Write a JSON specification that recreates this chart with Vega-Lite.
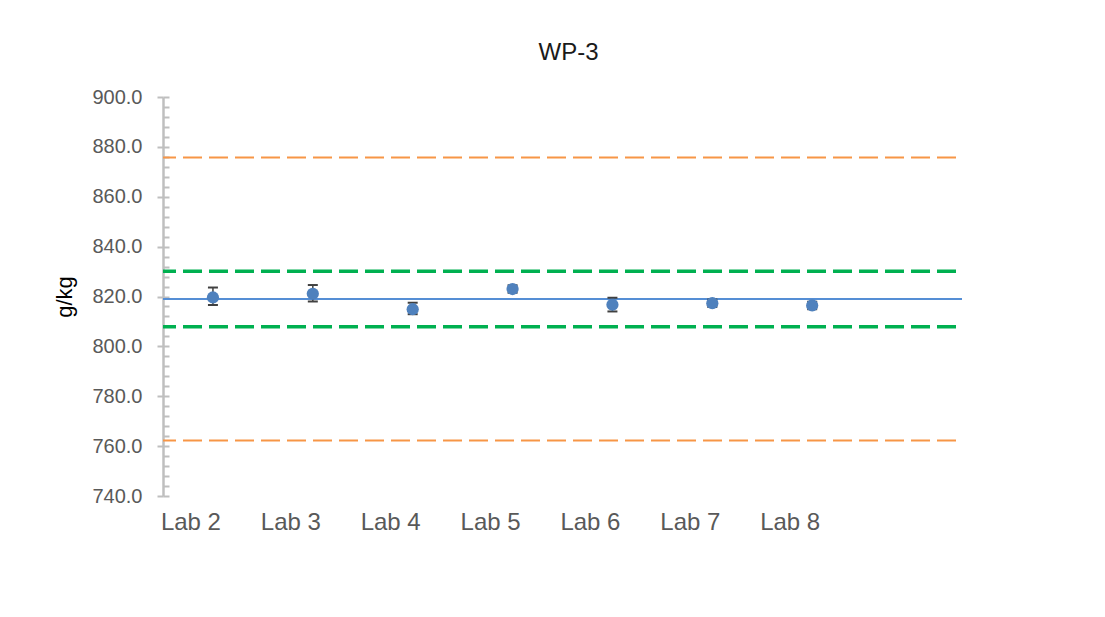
{
  "$schema": "https://vega.github.io/schema/vega-lite/v6.json",
  "width": 799,
  "height": 399,
  "autosize": "none",
  "padding": {"left": 163, "top": 97, "right": 143, "bottom": 121},
  "background": "#ffffff",
  "config": {
    "view": {"stroke": null},
    "font": "Liberation Sans",
    "axis": {"grid": false}
  },
  "title": {
    "text": "WP-3",
    "fontSize": 24,
    "fontWeight": "normal",
    "color": "#1A1A1A",
    "anchor": "middle",
    "dx": 6,
    "offset": 22
  },
  "datasets": {
    "results": [
      {"lab": "Lab 2", "mean": 819.6, "low": 816.6, "high": 823.6},
      {"lab": "Lab 3", "mean": 821.1, "low": 818.0, "high": 824.6},
      {"lab": "Lab 4", "mean": 814.9, "low": 812.9, "high": 817.5},
      {"lab": "Lab 5", "mean": 823.0, "low": 821.5, "high": 824.5},
      {"lab": "Lab 6", "mean": 816.7, "low": 814.0, "high": 819.5},
      {"lab": "Lab 7", "mean": 817.3, "low": 815.8, "high": 818.8},
      {"lab": "Lab 8", "mean": 816.4, "low": 814.9, "high": 817.9}
    ],
    "limits": [
      {"line": "assigned value", "value": 819.0},
      {"line": "inner limit", "value": 807.9},
      {"line": "inner limit", "value": 830.1},
      {"line": "outer limit", "value": 762.3},
      {"line": "outer limit", "value": 875.7}
    ]
  },
  "resolve": {"axis": {"y": "independent"}},
  "layer": [
    {
      "data": {"name": "limits"},
      "transform": [{"filter": "datum.line === 'outer limit'"}],
      "mark": {"type": "rule", "color": "#F79646", "strokeWidth": 2, "strokeDash": [19, 7], "strokeDashOffset": 20},
      "encoding": {
        "y": {
          "field": "value",
          "type": "quantitative",
          "scale": {"domain": [740, 900], "nice": false, "zero": false},
          "axis": {
            "orient": "left",
            "values": [740, 744, 748, 752, 756, 760, 764, 768, 772, 776, 780, 784, 788, 792, 796, 800, 804, 808, 812, 816, 820, 824, 828, 832, 836, 840, 844, 848, 852, 856, 860, 864, 868, 872, 876, 880, 884, 888, 892, 896, 900],
            "tickSize": -6,
            "tickColor": "#BFBFBF",
            "tickWidth": 2,
            "labels": false,
            "domain": false,
            "title": null
          }
        }
      }
    },
    {
      "data": {"name": "limits"},
      "transform": [{"filter": "datum.line === 'inner limit'"}],
      "mark": {"type": "rule", "color": "#00B050", "strokeWidth": 3.5, "strokeDash": [19, 7], "strokeDashOffset": 20},
      "encoding": {
        "y": {
          "field": "value",
          "type": "quantitative",
          "scale": {"domain": [740, 900], "nice": false, "zero": false},
          "axis": {
            "orient": "left",
            "title": "g/kg",
            "values": [740, 760, 780, 800, 820, 840, 860, 880, 900],
            "format": ".1f",
            "tickSize": 6,
            "tickColor": "#BFBFBF",
            "tickWidth": 2,
            "domainColor": "#BFBFBF",
            "domainWidth": 2.5,
            "labelFontSize": 20,
            "labelColor": "#595959",
            "labelPadding": 15,
            "titleFontSize": 22,
            "titleFontWeight": "normal",
            "titleColor": "#000000",
            "titlePadding": 15
          }
        }
      }
    },
    {
      "data": {"name": "limits"},
      "transform": [{"filter": "datum.line === 'assigned value'"}],
      "mark": {"type": "rule", "color": "#558ED5", "strokeWidth": 1.8},
      "encoding": {
        "y": {"field": "value", "type": "quantitative", "scale": {"domain": [740, 900], "nice": false, "zero": false}, "axis": null}
      }
    },
    {
      "data": {"name": "results"},
      "encoding": {
        "x": {
          "field": "lab",
          "type": "nominal",
          "sort": null,
          "scale": {"type": "band", "paddingInner": 0, "paddingOuter": 0.5, "align": 0},
          "axis": {
            "orient": "bottom",
            "title": null,
            "labelAngle": 0,
            "domain": false,
            "ticks": false,
            "tickSize": 0,
            "labelPadding": 14,
            "labelOffset": -22,
            "labelFontSize": 24,
            "labelColor": "#595959"
          }
        }
      },
      "layer": [
        {
          "mark": {"type": "rule", "color": "#404040", "strokeWidth": 1.5},
          "encoding": {
            "y": {"field": "low", "type": "quantitative", "scale": {"domain": [740, 900], "nice": false, "zero": false}, "axis": null},
            "y2": {"field": "high"}
          }
        },
        {
          "mark": {"type": "tick", "color": "#404040", "size": 10, "thickness": 2, "opacity": 1},
          "encoding": {
            "y": {"field": "low", "type": "quantitative", "scale": {"domain": [740, 900], "nice": false, "zero": false}, "axis": null}
          }
        },
        {
          "mark": {"type": "tick", "color": "#404040", "size": 10, "thickness": 2, "opacity": 1},
          "encoding": {
            "y": {"field": "high", "type": "quantitative", "scale": {"domain": [740, 900], "nice": false, "zero": false}, "axis": null}
          }
        },
        {
          "mark": {"type": "circle", "color": "#4F81BD", "size": 150, "opacity": 1},
          "encoding": {
            "y": {"field": "mean", "type": "quantitative", "scale": {"domain": [740, 900], "nice": false, "zero": false}, "axis": null}
          }
        }
      ]
    }
  ]
}
